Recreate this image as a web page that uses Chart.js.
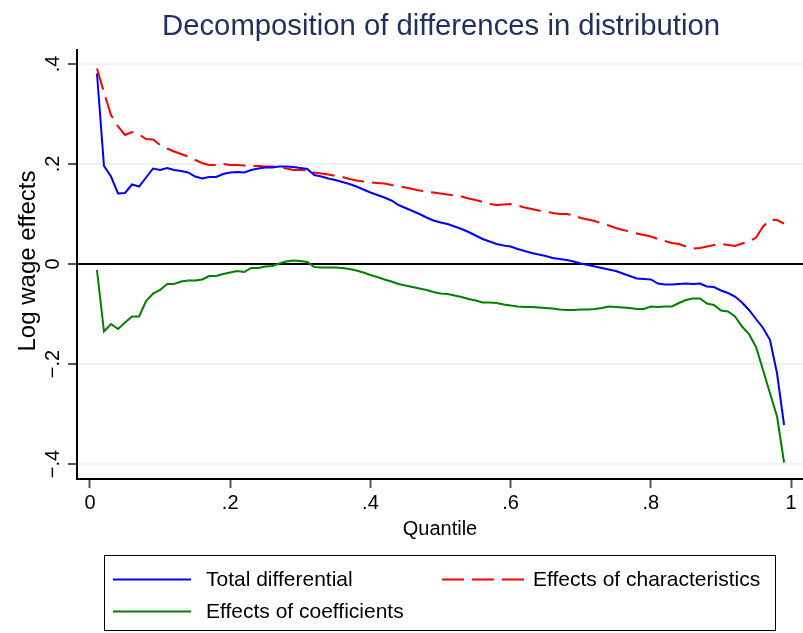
<!DOCTYPE html>
<html>
<head>
<meta charset="utf-8">
<script src="https://cdn.jsdelivr.net/npm/chart.js@4"></script>
<style>
  html, body { margin: 0; padding: 0; background: #fff; }
  #wrap { position: relative; width: 803px; height: 633px; }
  #legend {
    position: absolute; left: 104px; top: 555px; width: 672px; height: 76px;
    border: 1px solid #000; box-sizing: border-box;
    font-family: "Liberation Sans", Arial, sans-serif; font-size: 21px; color: #000;
  }
  .item { position: absolute; height: 24px; line-height: 24px; white-space: nowrap; }
  .item svg { position: absolute; left: 0; top: 11px; }
  .item span { position: absolute; }
</style>
</head>
<body>
<div id="wrap">
  <canvas id="chart" width="803" height="633"></canvas>
  <div id="legend"></div>
</div>
<script>
// quantile decomposition: total vs characteristics vs coefficients

const QUANTILES = [
  0.01, 0.02, 0.03, 0.04, 0.05, 0.06, 0.07, 0.08, 0.09, 0.10,
  0.11, 0.12, 0.13, 0.14, 0.15, 0.16, 0.17, 0.18, 0.19, 0.20,
  0.21, 0.22, 0.23, 0.24, 0.25, 0.26, 0.27, 0.28, 0.29, 0.30,
  0.31, 0.32, 0.33, 0.34, 0.35, 0.36, 0.37, 0.38, 0.39, 0.40,
  0.41, 0.42, 0.43, 0.44, 0.45, 0.46, 0.47, 0.48, 0.49, 0.50,
  0.51, 0.52, 0.53, 0.54, 0.55, 0.56, 0.57, 0.58, 0.59, 0.60,
  0.61, 0.62, 0.63, 0.64, 0.65, 0.66, 0.67, 0.68, 0.69, 0.70,
  0.71, 0.72, 0.73, 0.74, 0.75, 0.76, 0.77, 0.78, 0.79, 0.80,
  0.81, 0.82, 0.83, 0.84, 0.85, 0.86, 0.87, 0.88, 0.89, 0.90,
  0.91, 0.92, 0.93, 0.94, 0.95, 0.96, 0.97, 0.98, 0.99
];

const TOTAL = [
  0.381, 0.196, 0.175, 0.141, 0.142, 0.159, 0.155, 0.173, 0.191, 0.188,
  0.192, 0.188, 0.186, 0.183, 0.175, 0.171, 0.174, 0.174, 0.180, 0.183,
  0.184, 0.183, 0.188, 0.191, 0.193, 0.193, 0.195, 0.195, 0.194, 0.192,
  0.190, 0.178, 0.175, 0.171, 0.168, 0.164, 0.160, 0.155, 0.149, 0.143,
  0.138, 0.133, 0.127, 0.118, 0.112, 0.106, 0.100, 0.093, 0.087, 0.083,
  0.080, 0.075, 0.070, 0.064, 0.057, 0.050, 0.045, 0.040, 0.037, 0.035,
  0.030, 0.026, 0.022, 0.019, 0.016, 0.012, 0.010, 0.008, 0.005, 0.001,
  -0.002, -0.005, -0.008, -0.011, -0.014, -0.019, -0.024, -0.029, -0.030, -0.031,
  -0.039, -0.041, -0.041, -0.040, -0.039, -0.040, -0.039, -0.045, -0.046, -0.053,
  -0.058, -0.065, -0.077, -0.092, -0.110, -0.128, -0.152, -0.219, -0.322
];

const CHARACTERISTICS = [
  0.391, 0.343, 0.298, 0.275, 0.258, 0.264, 0.259, 0.250, 0.249, 0.238,
  0.231, 0.225, 0.220, 0.215, 0.208, 0.202, 0.198, 0.198, 0.200, 0.198,
  0.198, 0.197, 0.196, 0.196, 0.195, 0.195, 0.194, 0.191, 0.188, 0.188,
  0.187, 0.183, 0.181, 0.179, 0.176, 0.174, 0.170, 0.167, 0.165, 0.163,
  0.162, 0.161, 0.158, 0.156, 0.153, 0.150, 0.147, 0.145, 0.143, 0.141,
  0.139, 0.137, 0.135, 0.131, 0.128, 0.124, 0.120, 0.118, 0.119, 0.120,
  0.117, 0.113, 0.110, 0.107, 0.105, 0.102, 0.100, 0.100, 0.097, 0.092,
  0.089, 0.086, 0.081, 0.077, 0.072, 0.068, 0.065, 0.061, 0.058, 0.055,
  0.050, 0.046, 0.042, 0.040, 0.035, 0.031, 0.032, 0.035, 0.038, 0.040,
  0.038, 0.036, 0.041, 0.045, 0.053, 0.075, 0.089, 0.088, 0.081
];

const COEFFICIENTS = [
  -0.012, -0.135, -0.120, -0.130, -0.117, -0.105, -0.105, -0.074, -0.059, -0.052,
  -0.040, -0.040, -0.035, -0.033, -0.033, -0.031, -0.024, -0.024, -0.020, -0.017,
  -0.014, -0.016, -0.008, -0.008, -0.005, -0.004, 0.001, 0.005, 0.007, 0.006,
  0.004, -0.006, -0.007, -0.007, -0.007, -0.008, -0.010, -0.013, -0.017, -0.022,
  -0.026, -0.031, -0.035, -0.040, -0.043, -0.046, -0.049, -0.052, -0.056, -0.059,
  -0.060, -0.063, -0.066, -0.070, -0.073, -0.077, -0.077, -0.078, -0.081, -0.083,
  -0.085, -0.086, -0.086, -0.087, -0.088, -0.089, -0.091, -0.092, -0.092, -0.091,
  -0.091, -0.090, -0.088, -0.085, -0.086, -0.087, -0.088, -0.090, -0.090, -0.085,
  -0.086, -0.085, -0.085, -0.078, -0.072, -0.069, -0.069, -0.079, -0.082, -0.093,
  -0.095, -0.105, -0.125, -0.140, -0.166, -0.212, -0.259, -0.305, -0.397
];

const X_TICKS = [0, 0.2, 0.4, 0.6, 0.8, 1];
const Y_TICKS = [-0.4, -0.2, 0, 0.2, 0.4];

const FONT = '"Liberation Sans", Arial, sans-serif';
const TITLE = 'Decomposition of differences in distribution';

const SERIES = [
  { label: 'Total differential', data: TOTAL, color: '#0000ff', dash: [] },
  { label: 'Effects of characteristics', data: CHARACTERISTICS, color: '#ff0000', dash: [22, 8] },
  { label: 'Effects of coefficients', data: COEFFICIENTS, color: '#008000', dash: [] },
];

// stata style number labels: .2, -.4, 0, 1
const fmt = v => {
  if (Math.abs(v) < 1e-9) return '0';
  if (Math.abs(v - 1) < 1e-9) return '1';
  const s = Math.abs(v).toFixed(1).replace(/^0/, '');
  return (v < 0 ? '\u2212' : '') + s;
};

// titles + rotated y tick labels
const textPlugin = {
  id: 'stataText',
  afterDraw(chart) {
    const c = chart.ctx;
    const y = chart.scales.y;
    const area = chart.chartArea;
    c.save();
    c.fillStyle = '#000';
    c.font = `20px ${FONT}`;
    c.textAlign = 'center';
    c.textBaseline = 'alphabetic';
    Y_TICKS.forEach(v => {
      c.save();
      c.translate(59, y.getPixelForValue(v));
      c.rotate(-Math.PI / 2);
      c.fillText(fmt(v), 0, 0);
      c.restore();
    });
    // y title
    c.save();
    c.font = `24px ${FONT}`;
    c.translate(35, 261);
    c.rotate(-Math.PI / 2);
    c.fillText('Log wage effects', 0, 0);
    c.restore();
    // x title
    c.fillText('Quantile', (area.left + area.right) / 2, 535);
    // main title
    c.fillStyle = '#1f2f5e';
    c.font = `29.3px ${FONT}`;
    c.fillText(TITLE, 441, 35);
    c.restore();
  }
};

const whiteBg = {
  id: 'whiteBg',
  beforeDraw(chart) {
    const c = chart.ctx;
    c.save();
    c.fillStyle = '#fff';
    c.fillRect(0, 0, chart.width, chart.height);
    c.restore();
  }
};

new Chart(document.getElementById('chart'), {
  type: 'line',
  data: {
    datasets: SERIES.map(s => ({
      label: s.label,
      data: QUANTILES.map((q, i) => ({ x: q, y: s.data[i] })),
      borderColor: s.color,
      backgroundColor: s.color,
      borderWidth: 2,
      borderDash: s.dash,
      pointRadius: 0,
      tension: 0,
      fill: false,
    }))
  },
  options: {
    responsive: false,
    animation: false,
    layout: { padding: { top: 50, left: 0, right: 0, bottom: 0 }, autoPadding: false },
    plugins: {
      legend: { display: false },
      title: { display: false },
      tooltip: { enabled: false },
    },
    scales: {
      x: {
        type: 'linear',
        min: -0.0185, max: 1.017,
        afterBuildTicks: s => { s.ticks = X_TICKS.map(v => ({ value: v })); },
        afterFit: s => { s.height = 154; },
        ticks: {
          callback: v => fmt(v),
          color: '#000',
          font: { family: FONT, size: 20 },
          padding: 3,
          maxRotation: 0,
        },
        grid: {
          drawOnChartArea: false,
          drawTicks: true,
          tickLength: 9,
          tickColor: '#555',
          tickWidth: 2,
        },
        border: { color: '#000', width: 2 },
      },
      y: {
        min: -0.43, max: 0.428,
        afterBuildTicks: s => { s.ticks = Y_TICKS.map(v => ({ value: v })); },
        afterFit: s => { s.width = 77; },
        ticks: { display: false },
        grid: {
          color: ctx => (ctx.tick && ctx.tick.value === 0 ? '#000' : '#eaf0f4'),
          lineWidth: 2,
          drawTicks: true,
          tickLength: 9,
          tickColor: '#555',
          tickWidth: 2,
        },
        border: { color: '#000', width: 2 },
      }
    }
  },
  plugins: [whiteBg, textPlugin]
});

// legend box below the plot, two columns like the stata one
const LEGEND_POS = [
  { left: 8, top: 11 },
  { left: 337, top: 11 },
  { left: 8, top: 43 },
];
const legend = document.getElementById('legend');
SERIES.forEach((s, i) => {
  const p = LEGEND_POS[i];
  const item = document.createElement('div');
  item.className = 'item';
  item.style.left = p.left + 'px';
  item.style.top = p.top + 'px';
  const w = i === 1 ? 82 : 78;
  const dash = s.dash.length ? `stroke-dasharray="${s.dash.join(' ')}"` : '';
  item.innerHTML = `<svg width="${w}" height="3"><line x1="0" y1="1.5" x2="${w}" y2="1.5" stroke="${s.color}" stroke-width="2" ${dash}/></svg>` +
    `<span style="left:${i === 1 ? 91 : 93}px">${s.label}</span>`;
  legend.appendChild(item);
});
</script>
</body>
</html>
